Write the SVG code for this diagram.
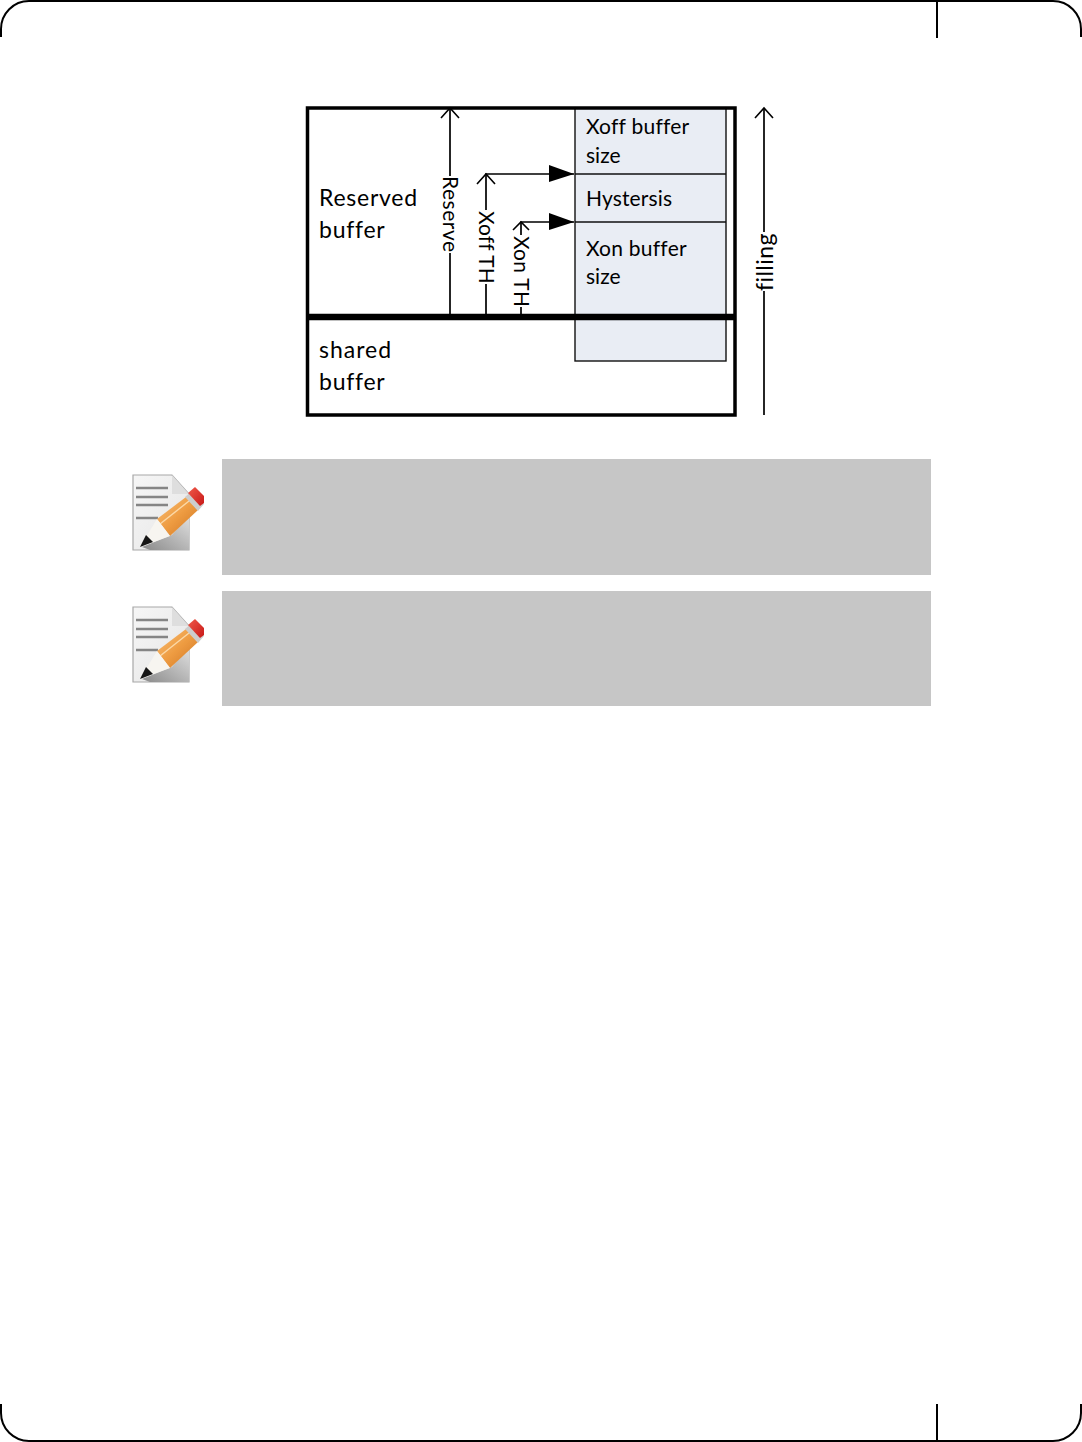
<svg xmlns="http://www.w3.org/2000/svg" xmlns:xlink="http://www.w3.org/1999/xlink" width="1082" height="1442" viewBox="0 0 1082 1442">
<style>
text{font-family:"Lato","Liberation Sans",sans-serif;fill:#000;font-variant-ligatures:none}
.t{font-size:23px;letter-spacing:.75px}
.s{font-size:21px;letter-spacing:.25px}
.l{fill:none;stroke:#000;stroke-width:2}
.o{fill:none;stroke:#000;stroke-width:1.7}
.c{fill:#e9edf4;stroke:#111;stroke-width:1.4}
.h{fill:none;stroke:#000;stroke-width:1.6}
.n{fill:#c6c6c6}
</style>
<defs>
<filter id="soft" x="-5%" y="-5%" width="110%" height="110%"><feGaussianBlur stdDeviation=".55"/></filter>
<marker id="big" markerUnits="userSpaceOnUse" markerWidth="26" markerHeight="18" refX="25" refY="9" orient="auto"><path d="M0 0L25 9L0 17Z" fill="#000"/></marker>
<linearGradient id="pg" x1="0" y1="0" x2="1" y2="1"><stop offset="0" stop-color="#f6f6f6"/><stop offset=".6" stop-color="#ececec"/><stop offset="1" stop-color="#c4c4c4"/></linearGradient>
<linearGradient id="sh" x1="0" y1="1" x2="1" y2="0"><stop offset="0" stop-color="#8a8a8a"/><stop offset="1" stop-color="#e0e0e0"/></linearGradient>
<linearGradient id="pc" x1="0" y1="0" x2="1" y2="1"><stop offset="0" stop-color="#f8c078"/><stop offset=".5" stop-color="#ee9c42"/><stop offset="1" stop-color="#cf7420"/></linearGradient>
<linearGradient id="er" x1="0" y1="0" x2="1" y2="1"><stop offset="0" stop-color="#f05a4a"/><stop offset="1" stop-color="#c81818"/></linearGradient>
<g id="note" filter="url(#soft)">
<path d="M133 475H172L189 494V550H133Z" fill="url(#pg)" stroke="#a8a8a8" stroke-width="1.2"/>
<path d="M172 475L189 494H172Z" fill="#dedede"/>
<path d="M136 488H168M136 497H168M136 505H168M136 518H158" stroke="#858585" stroke-width="2.4" fill="none"/>
<path d="M142 547L172 535L189 515V550H150Z" fill="url(#sh)"/>
<path d="M157 519L186 497L198 510L170 536Z" fill="url(#pc)"/>
<path d="M160 524L189 501" stroke="#fbd9a8" stroke-width="1.4"/>
<path d="M140 547L157 519L170 536Z" fill="#f7f5f0"/>
<path d="M140 547L146 535L153 542Z" fill="#141414"/>
<path d="M185 497L192 491L204 504L198 511Z" fill="#cdcdcd"/>
<path d="M188 493L195 487L204 496L204 503L200 506Z" fill="url(#er)"/>
</g>
</defs>
<g id="page-frame">
<path class="l" d="M1 37V29A28 28 0 0 1 29 1H1053A28 28 0 0 1 1081 29V37"/>
<path class="l" d="M1 1404V1413A28 28 0 0 0 29 1441H1053A28 28 0 0 0 1081 1413V1404"/>
<path class="l" d="M937 0V38M937 1404V1442"/>
</g>
<g id="node-blue-column">
<rect class="c" x="575" y="108" width="151" height="253"/>
<path d="M575 174H726M575 222H726" stroke="#111" stroke-width="1.5" fill="none"/>
</g>
<g id="node-buffer-frame">
<rect x="307.500" y="108" width="427.500" height="307" fill="none" stroke="#000" stroke-width="3.500"/>
<path d="M307 317H735" stroke="#000" stroke-width="6.500"/>
</g>
<g id="connectors">
<path class="o" d="M450 315V253M450 176V109"/>
<path class="h" d="M441 118L450 108L459 118"/>
<path class="o" d="M486 315V284M486 210V174H574" marker-end="url(#big)"/>
<path class="h" d="M477 184L486 174L495 184"/>
<path class="o" d="M521 315V307M521 235V222H574" marker-end="url(#big)"/>
<path class="h" d="M513 230L521 222L529 230"/>
<path class="o" d="M764 415V291M764 232V108"/>
<path class="h" d="M755 118L764 108L773 118"/>
</g>
<g id="node-reserved"><text class="t" x="319" y="206">Reserved</text><text class="t" x="319" y="238">buffer</text></g>
<g id="node-shared"><text class="t" x="319" y="358" style="letter-spacing:1px">shared</text><text class="t" x="319" y="390">buffer</text></g>
<g id="node-xoff"><text class="s" x="586" y="134">Xoff buffer</text><text class="s" x="586" y="163" style="letter-spacing:0">size</text></g>
<g id="node-hyst"><text class="s" x="586" y="206" style="letter-spacing:.15px">Hystersis</text></g>
<g id="node-xon"><text class="s" x="586" y="256">Xon buffer</text><text class="s" x="586" y="284" style="letter-spacing:0">size</text></g>
<g id="labels">
<text class="s" transform="translate(443 176) rotate(90)" style="letter-spacing:.5px">Reserve</text>
<text class="s" transform="translate(479 211) rotate(90)" style="letter-spacing:.15px">Xoff TH</text>
<text class="s" transform="translate(514 236) rotate(90)" style="letter-spacing:.3px">Xon TH</text>
<text transform="translate(773 291) rotate(-90)" style="font-size:23px;letter-spacing:.45px">filling</text>
</g>
<g id="note-1"><use xlink:href="#note"/><rect class="n" x="222" y="459" width="709" height="116"/></g>
<g id="note-2"><use xlink:href="#note" y="132"/><rect class="n" x="222" y="591" width="709" height="115"/></g>
</svg>
